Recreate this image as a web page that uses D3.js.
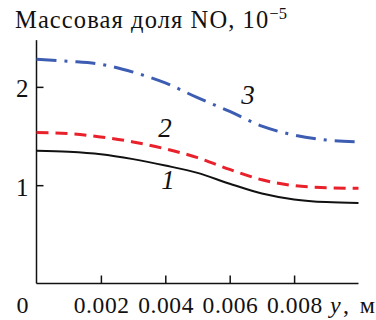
<!DOCTYPE html>
<html>
<head>
<meta charset="utf-8">
<script src="https://cdn.jsdelivr.net/npm/d3@7"></script>
<style>
  html, body { margin: 0; padding: 0; background: #fff; }
  svg { display: block; }
</style>
</head>
<body>
<svg id="chart" width="376" height="320"></svg>
<script>
// Distance across the channel, m
const yPos = [0, 0.001, 0.002, 0.003, 0.004, 0.005, 0.006, 0.007, 0.008, 0.009, 0.01];
// NO mass fraction, units of 1e-5
const curve1 = [1.35, 1.34, 1.315, 1.265, 1.20, 1.125, 1.015, 0.915, 0.855, 0.828, 0.82];
const curve2 = [1.535, 1.525, 1.49, 1.44, 1.37, 1.28, 1.16, 1.055, 0.995, 0.975, 0.968];
const curve3 = [2.28, 2.26, 2.23, 2.15, 2.04, 1.89, 1.75, 1.60, 1.51, 1.46, 1.44];
const xTicks = [0.002, 0.004, 0.006, 0.008];
const yTicks = [1, 2];
const curveLabels = ["1", "2", "3"];

const FONT = "Liberation Serif";
const INK = "#111";
const svg = d3.select("#chart");
const x = d3.scaleLinear().domain([0, 0.01]).range([36.5, 358.5]);
const y = d3.scaleLinear().domain([0, 2.5]).range([283.5, 37.7]);

const addText = (px, py, size) => svg.append("text").attr("x", px).attr("y", py)
  .attr("font-family", FONT).attr("font-size", size).attr("fill", INK);

// axes frame
svg.append("line").attr("x1", x(0)).attr("x2", x(0)).attr("y1", y(0)).attr("y2", y(2.475))
  .attr("stroke", "#111").attr("stroke-width", 1.5);
svg.append("line").attr("x1", x(0)).attr("x2", x(0.01)).attr("y1", y(0)).attr("y2", y(0))
  .attr("stroke", "#111").attr("stroke-width", 1.5);

// x ticks (inward) and labels
const xAxis = d3.axisTop(x).tickValues(xTicks).tickSize(8).tickFormat(d3.format(".3f"));
const gx = svg.append("g").attr("transform", `translate(0,${y(0)})`).call(xAxis);
gx.attr("font-family", FONT);
gx.select(".domain").remove();
gx.selectAll(".tick line").attr("stroke", "#111").attr("stroke-width", 1.5);
gx.selectAll(".tick text").attr("x", 0.3).attr("y", 29).attr("dy", 0).attr("font-size", 23.5)
  .attr("letter-spacing", 0.6).attr("font-family", FONT).attr("fill", INK);

// y ticks (inward) and labels
const yAxis = d3.axisRight(y).tickValues(yTicks).tickSize(7).tickFormat(d3.format("d"));
const gy = svg.append("g").attr("transform", `translate(${x(0)},0)`).call(yAxis);
gy.attr("font-family", FONT);
gy.select(".domain").remove();
gy.selectAll(".tick line").attr("stroke", "#111").attr("stroke-width", 1.5);
gy.selectAll(".tick text").attr("x", -8).attr("y", 10).attr("dy", 0).attr("text-anchor", "end")
  .attr("font-size", 25).attr("font-family", FONT).attr("fill", INK);

// origin label
addText(28.5, y(0) + 29, 24).attr("text-anchor", "end").text("0");

// x axis title
const xt = addText(330, y(0) + 29, 24).attr("textLength", 45).attr("lengthAdjust", "spacing");
xt.append("tspan").attr("font-style", "italic").text("y");
xt.append("tspan").text(", м");

// y axis title
const yt = addText(15, 27.5, 24.5).attr("letter-spacing", 1.1);
yt.append("tspan").text("Массовая доля NO, 10");
yt.append("tspan").attr("dy", -9).attr("font-size", 16.5).attr("letter-spacing", 0).text("−5");

// curves
const line = d3.line().x((d, i) => x(yPos[i])).y(d => y(d)).curve(d3.curveMonotoneX);
svg.append("path").datum(curve1).attr("d", line).attr("fill", "none")
  .attr("stroke", "#111").attr("stroke-width", 2);
svg.append("path").datum(curve2).attr("d", line).attr("fill", "none")
  .attr("stroke", "#e8212b").attr("stroke-width", 3).attr("stroke-dasharray", "12,7");
svg.append("path").datum(curve3).attr("d", line).attr("fill", "none")
  .attr("stroke", "#3d5db3").attr("stroke-width", 3).attr("stroke-dasharray", "20,8,3,8");

// curve numbers
const labelPos = [[0.00408, 0.958], [0.00399, 1.49], [0.00657, 1.83]];
curveLabels.forEach((t, i) => {
  addText(x(labelPos[i][0]), y(labelPos[i][1]), 27)
    .attr("text-anchor", "middle").attr("font-style", "italic").text(t);
});
</script>
</body>
</html>
